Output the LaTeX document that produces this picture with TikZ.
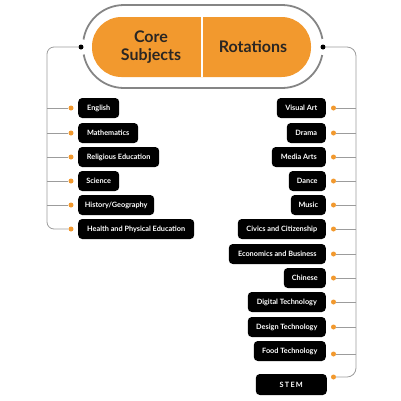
\documentclass[tikz,border=0pt]{standalone}
\usepackage{fontspec}
\setmainfont{Lato}
\definecolor{org}{HTML}{F2992E}
\definecolor{lgray}{HTML}{9C9C9C}
\definecolor{dgray}{HTML}{858585}
\definecolor{htext}{HTML}{2A2623}
\tikzset{
  subj/.style={fill=black, rounded corners=4pt, text=white, font=\bfseries\fontsize{7.3}{8}\selectfont, minimum height=20pt, inner sep=0pt, align=center},
  lbox/.style={subj, anchor=west},
  rbox/.style={subj, anchor=east},
  conn/.style={draw=lgray, line width=0.8pt},
  odot/.style={circle, fill=org, inner sep=0pt, minimum size=5pt},
  bdot/.style={circle, fill=black, inner sep=0pt, minimum size=5pt},
  head/.style={font=\bfseries\fontsize{16}{18}\selectfont, text=htext, align=center}
}
\begin{document}
\begin{tikzpicture}[x=1pt,y=-1pt]
\useasboundingbox (0,0) rectangle (401,400);
% outer capsule
\draw[dgray, line width=1.8pt, rounded corners=41pt] (83,5) rectangle (323,88);
\fill[white] (81,47) circle (8);
\fill[white] (323,47) circle (8);
% pill
\fill[org, rounded corners=29.5pt] (92,17) rectangle (311,77);
\draw[white, line width=2.5pt] (202,17) -- (202,77);
\node[head] (core) at (151,47) {Core\\Subjects};
\node[head] (rot) at (253,47) {Rotations};
% top dots
\node[bdot] (ld) at (81,47) {};
\node[bdot] (rd) at (323,47) {};
% left boxes
\node[lbox, minimum width=41pt] (b1) at (78,108) {English};
\node[lbox, minimum width=60pt] (b2) at (78,133) {Mathematics};
\node[lbox, minimum width=81pt] (b3) at (78,157) {Religious Education};
\node[lbox, minimum width=41pt] (b4) at (78,181) {Science};
\node[lbox, minimum width=76pt] (b5) at (78,205) {History/Geography};
\node[lbox, minimum width=116pt] (b6) at (78,229) {Health and Physical Education};
\foreach \i/\y in {1/108,2/133,3/157,4/181,5/205,6/229}{
  \node[odot] (ldot\i) at (71,\y) {};
}
\coordinate (ltop) at (47,47);
\coordinate (lbot) at (47,229);
\draw[conn, rounded corners=7pt] (ld) -- (ltop) -- (lbot) -- (ldot6);
\foreach \i/\y in {1/108,2/133,3/157,4/181,5/205}{
  \draw[conn] (47,\y) -- (ldot\i);
}
% right boxes
\node[rbox, minimum width=49pt] (r1) at (326,108) {Visual Art};
\node[rbox, minimum width=39pt] (r2) at (326,133) {Drama};
\node[rbox, minimum width=54pt] (r3) at (326,157) {Media Arts};
\node[rbox, minimum width=37pt] (r4) at (326,181) {Dance};
\node[rbox, minimum width=35pt] (r5) at (326,205) {Music};
\node[rbox, minimum width=88pt] (r6) at (326,229) {Civics and Citizenship};
\node[rbox, minimum width=97pt] (r7) at (326,254) {Economics and Business};
\node[rbox, minimum width=42pt] (r8) at (326,278) {Chinese};
\node[rbox, minimum width=78pt] (r9) at (326,302) {Digital Technology};
\node[rbox, minimum width=78pt] (r10) at (326,327) {Design Technology};
\node[rbox, minimum width=72pt] (r11) at (326,351) {Food Technology};
\node[rbox, minimum width=71pt, minimum height=21pt] (r12) at (327,384.5) {S\,T\,E\,M};
\foreach \i/\y in {1/108,2/133,3/157,4/181,5/205,6/229,7/254,8/278,9/302,10/327,11/354,12/377}{
  \node[odot] (rdot\i) at (333.5,\y) {};
}
\coordinate (rtop) at (356,47);
\coordinate (rbot) at (356,377);
\draw[conn, rounded corners=9pt] (rd) -- (rtop) -- (rbot) -- (rdot12);
\foreach \i/\y in {1/108,2/133,3/157,4/181,5/205,6/229,7/254,8/278,9/302,10/327,11/354}{
  \draw[conn] (356,\y) -- (rdot\i);
}
\end{tikzpicture}
\end{document}
